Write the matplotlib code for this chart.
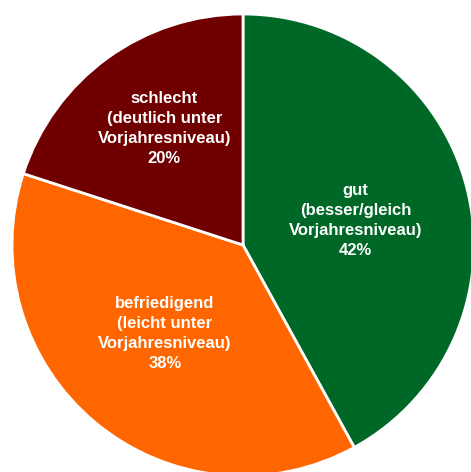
import numpy as np
import matplotlib.pyplot as plt

plt.rcParams['font.family'] = ['Liberation Sans', 'DejaVu Sans']

labels = ['gut\n(besser/gleich\nVorjahresniveau)',
          'befriedigend\n(leicht unter\nVorjahresniveau)',
          'schlecht\n(deutlich unter\nVorjahresniveau)']
shares = [42, 38, 20]
colors = ['#006827', '#FF6600', '#700000']
label_radius = [0.50, 0.51, 0.61]

W, H = 471, 472
fig = plt.figure(figsize=(W / 100, H / 100), dpi=100)
cx, cy, r = 243, 245, 231
ax = fig.add_axes([(cx - r) / W, (H - cy - r) / H, 2 * r / W, 2 * r / H])

wedges, _ = ax.pie(shares, colors=colors, startangle=90, counterclock=False,
                   radius=1, wedgeprops=dict(edgecolor='white', linewidth=2))
for w in wedges:
    w.set_clip_on(False)
ax.set_xlim(-1, 1)
ax.set_ylim(-1, 1)
ax.axis('off')

for w, lab, val, rr in zip(wedges, labels, shares, label_radius):
    mid = np.deg2rad((w.theta1 + w.theta2) / 2 - 2)
    ax.text(rr * np.cos(mid), rr * np.sin(mid), f'{lab}\n{val}%',
            ha='center', va='center', color='white', fontsize=12,
            fontweight='bold', linespacing=1.42)

fig.savefig('out.png', dpi=100)
